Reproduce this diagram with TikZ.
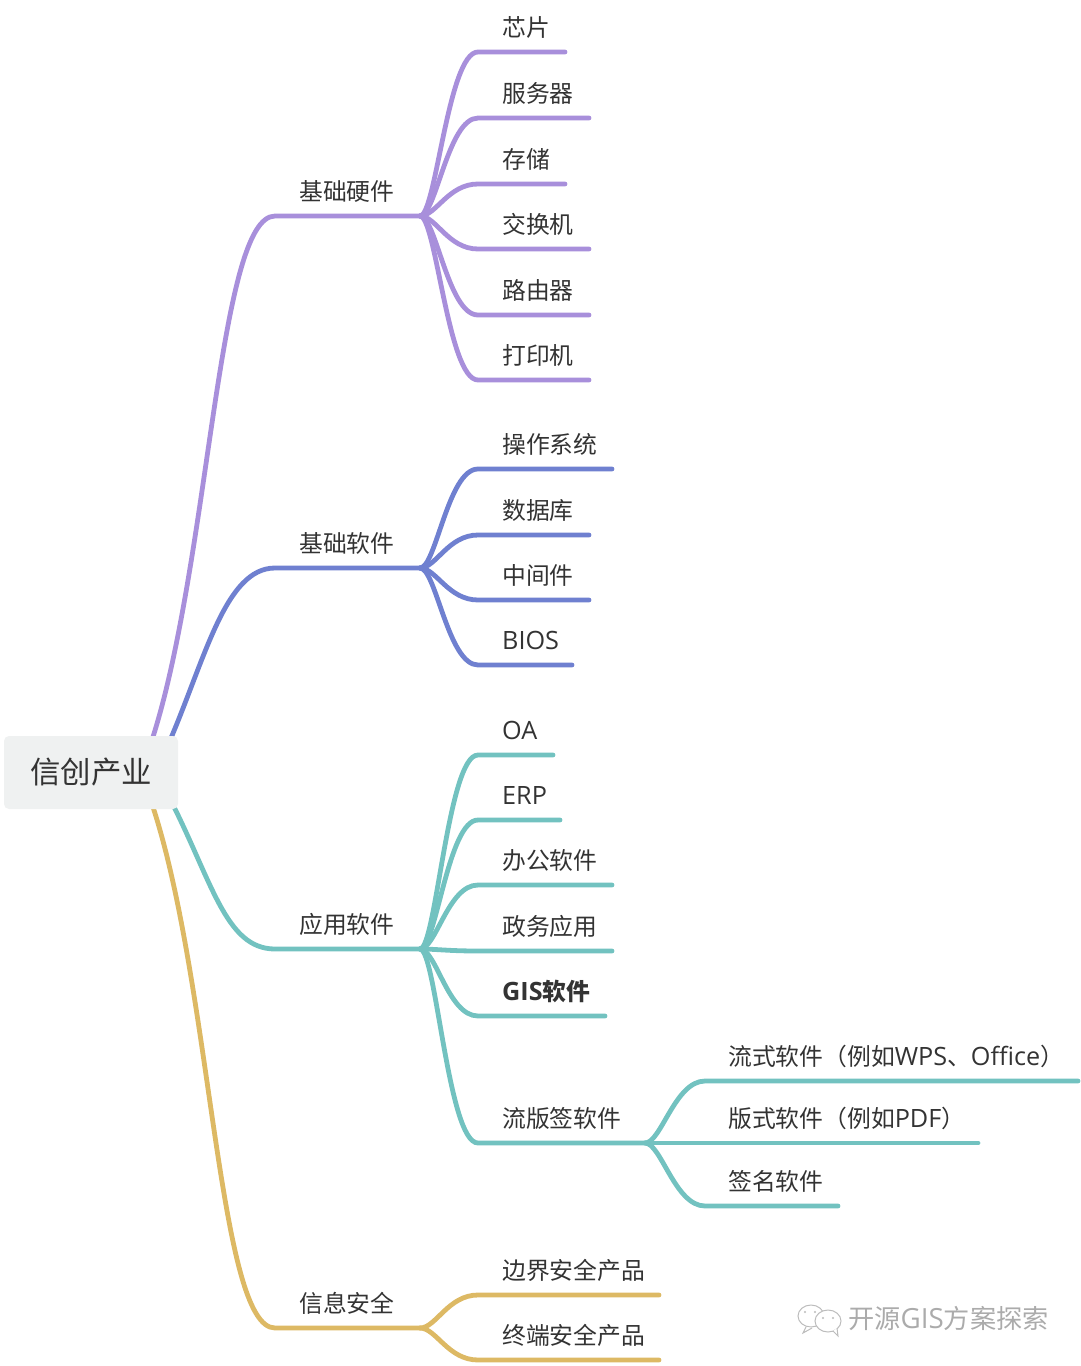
\documentclass[tikz,border=0pt]{standalone}
\usepackage{fontspec}
\setmainfont{Noto Sans CJK SC}
\newfontfamily\latinface[Scale=1.06]{Open Sans}
\usetikzlibrary{backgrounds}
\definecolor{cpurple}{HTML}{A88FDB}
\definecolor{cblue}{HTML}{6F80D0}
\definecolor{cteal}{HTML}{72C2C0}
\definecolor{cyellow}{HTML}{DDB964}
\definecolor{ctext}{HTML}{333333}
\definecolor{croot}{HTML}{EFF1F1}
\definecolor{cmark}{HTML}{ABABAB}
\tikzset{
  label text/.style={anchor=base west,inner sep=0pt,text=ctext,font=\fontsize{23.8}{24}\selectfont},
  root box/.style={fill=croot,rounded corners=5pt,minimum width=174pt,minimum height=73pt,inner sep=0pt,text=ctext,font=\fontsize{30.4}{30}\selectfont},
  wire/.style={line width=4.8pt,line cap=round},
  mark text/.style={anchor=base west,inner sep=0pt,text=cmark,font=\fontsize{26.2}{26}\selectfont},
  mark icon/.style={draw=cmark!80,line width=1pt,fill=white},
  mark eye/.style={fill=cmark!80}
}
% \leafitem{id}{hub}{text}{y}{xstart}{xend}{colour}{xtext}
\newcommand{\leafitem}[8]{%
  \coordinate (#1s) at (#5,#4);
  \coordinate (#1e) at (#6,#4);
  \node[label text] (#1) at (#8,#4-16) {#3};
  \draw[wire,#7] (#2) .. controls +(16,0) and +(-30,0) .. (#1s) -- (#1e);
}
\newcommand{\latn}[1]{{\latinface #1}}
\begin{document}
\begin{tikzpicture}[x=1pt,y=-1pt]
\useasboundingbox (0,0) rectangle (1080,1366);
\node[root box] (root) at (91,772.5) {信创产业};
\coordinate (hw) at (420,216);
\coordinate (sw) at (420,568);
\coordinate (app) at (420,949);
\coordinate (sec) at (420,1328);
\coordinate (flow) at (645,1143);
\coordinate (hws) at (275,216);
\coordinate (sws) at (275,568);
\coordinate (apps) at (275,949);
\coordinate (secs) at (275,1328);
\coordinate (r1) at (152,740);
\coordinate (r2) at (168,745);
\coordinate (r3) at (168,795);
\coordinate (r4) at (152,804);
\node[label text] (lhw) at (299,200) {基础硬件};
\node[label text] (lsw) at (299,552) {基础软件};
\node[label text] (lapp) at (299,933) {应用软件};
\node[label text] (lsec) at (299,1312) {信息安全};
\begin{scope}[on background layer]
\draw[wire,cpurple] (r1) .. controls (210,560) and (218,216) .. (hws) -- (hw);
\draw[wire,cblue] (r2) .. controls (205,660) and (225,568) .. (sws) -- (sw);
\draw[wire,cteal] (r3) .. controls (212,880) and (225,949) .. (apps) -- (app);
\draw[wire,cyellow] (r4) .. controls (212,985) and (218,1328) .. (secs) -- (sec);
\end{scope}
\leafitem{a1}{hw}{芯片}{52}{478}{565}{cpurple}{502}
\leafitem{a2}{hw}{服务器}{118}{478}{589}{cpurple}{502}
\leafitem{a3}{hw}{存储}{184}{478}{565}{cpurple}{502}
\leafitem{a4}{hw}{交换机}{249}{478}{589}{cpurple}{502}
\leafitem{a5}{hw}{路由器}{315}{478}{589}{cpurple}{502}
\leafitem{a6}{hw}{打印机}{380}{478}{589}{cpurple}{502}
\leafitem{b1}{sw}{操作系统}{469}{478}{612}{cblue}{502}
\leafitem{b2}{sw}{数据库}{535}{478}{589}{cblue}{502}
\leafitem{b3}{sw}{中间件}{600}{478}{589}{cblue}{502}
\leafitem{b4}{sw}{\latn{BIOS}}{665}{478}{572}{cblue}{502}
\leafitem{c1}{app}{\latn{OA}}{755}{478}{553}{cteal}{502}
\leafitem{c2}{app}{\latn{ERP}}{820}{478}{560}{cteal}{502}
\leafitem{c3}{app}{办公软件}{885}{478}{612}{cteal}{502}
\leafitem{c4}{app}{政务应用}{951}{478}{612}{cteal}{502}
\leafitem{c5}{app}{\textbf{\latn{GIS}软件}}{1016}{478}{605}{cteal}{502}
\leafitem{c6}{app}{流版签软件}{1143}{478}{645}{cteal}{502}
\leafitem{d1}{flow}{流式软件（例如\latn{WPS}、\latn{Office}）}{1081}{705}{1078}{cteal}{728}
\leafitem{d2}{flow}{版式软件（例如\latn{PDF}）}{1143}{705}{978}{cteal}{728}
\leafitem{d3}{flow}{签名软件}{1206}{705}{838}{cteal}{728}
\leafitem{e1}{sec}{边界安全产品}{1295}{478}{659}{cyellow}{502}
\leafitem{e2}{sec}{终端安全产品}{1360}{478}{659}{cyellow}{502}
% watermark
\node[mark text] (wm) at (848,1328) {开源\latn{GIS}方案探索};
\path[mark icon] (811,1316) ellipse (13pt and 11pt);
\path[mark icon] (806,1327) -- (803,1333) -- (812,1328);
\path[mark eye] (805,1312) circle (1.2pt) (815,1312) circle (1.2pt);
\path[mark icon] (828,1321) ellipse (13pt and 11pt);
\path[mark icon] (833,1331) -- (838,1336) -- (837,1328);
\path[mark eye] (823,1318) circle (1.2pt) (833,1318) circle (1.2pt);
\end{tikzpicture}
\end{document}
